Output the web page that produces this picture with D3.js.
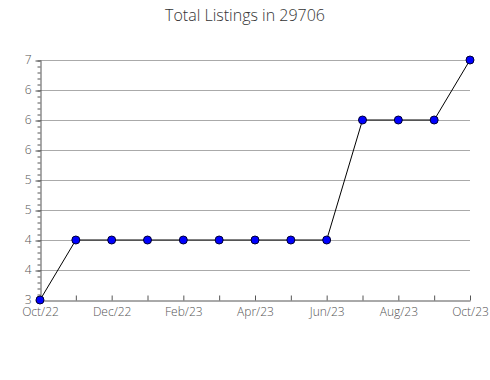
<!DOCTYPE html>
<html>
<head>
<meta charset="utf-8">
<script src="https://cdn.jsdelivr.net/npm/d3@7"></script>
<style>
  body { margin: 0; background: #fff; }
  text { font-family: "Open Sans", sans-serif; }
</style>
</head>
<body>
<div id="chart"></div>
<script>
/** chart data */
let months = ["Oct/22", "Nov/22", "Dec/22", "Jan/23", "Feb/23", "Mar/23", "Apr/23",
  "May/23", "Jun/23", "Jul/23", "Aug/23", "Sep/23", "Oct/23"];
let listings = [3, 4, 4, 4, 4, 4, 4, 4, 4, 6, 6, 6, 7];
let yTicks = [3, 3.5, 4, 4.5, 5, 5.5, 6, 6.5, 7];
let yTickLabels = ["3", "4", "4", "5", "5", "6", "6", "6", "7"];

/** size */
let width = 490;
let height = 380;
let margin = { top: 60, right: 20, bottom: 80, left: 40 };

let svg = d3.select('#chart')
  .append('svg')
  .attr('width', width)
  .attr('height', height);

let x = d3.scalePoint()
  .domain(months)
  .range([margin.left, width - margin.right]);

let y = d3.scaleLinear()
  .domain([3, 7])
  .range([height - margin.bottom, margin.top]);

/** title */
svg.append('text')
  .attr('x', width / 2)
  .attr('y', 21)
  .attr('text-anchor', 'middle')
  .style('font-size', '16px')
  .style('font-weight', 300)
  .style('fill', '#333')
  .text('Total Listings in 29706');

/** grid lines */
svg.append('g')
  .selectAll('line')
  .data(yTicks.slice(1))
  .enter()
  .append('line')
  .attr('x1', margin.left)
  .attr('x2', width - margin.right)
  .attr('y1', d => y(d) + 0.5)
  .attr('y2', d => y(d) + 0.5)
  .style('stroke', '#aaa')
  .style('stroke-width', 1);

/** minor y ticks */
let minor = d3.range(30, 71).map(d => d / 10);
svg.append('g')
  .attr('transform', `translate(${margin.left + 0.5},0)`)
  .call(d3.axisLeft(y).tickValues(minor).tickSize(3).tickFormat(''))
  .call(g => g.select('.domain').remove())
  .call(g => g.selectAll('line').attr('stroke', '#555').attr('transform', 'translate(0,0.5)'));

/** y axis */
let yAxis = svg.append('g')
  .attr('transform', `translate(${margin.left + 0.5},0)`)
  .call(d3.axisLeft(y).tickValues(yTicks).tickSize(5).tickSizeOuter(0)
    .tickFormat((d, i) => yTickLabels[i]));
yAxis.select('.domain').attr('stroke', '#555');
yAxis.selectAll('line').attr('stroke', '#555').attr('transform', 'translate(0,0.5)');
yAxis.selectAll('text')
  .attr('x', -9)
  .style('font-size', '12px')
  .style('font-weight', 300)
  .style('fill', '#555')
  .style('font-family', '"Open Sans", sans-serif');

/** x axis */
let xAxis = svg.append('g')
  .attr('transform', `translate(0,${height - margin.bottom + 0.5})`)
  .call(d3.axisBottom(x).tickSize(-5).tickSizeOuter(0)
    .tickFormat((d, i) => i % 2 === 0 ? d : ''));
xAxis.select('.domain').attr('stroke', '#555');
xAxis.selectAll('line').attr('stroke', '#555');
xAxis.selectAll('text')
  .attr('y', 7)
  .style('font-size', '12px')
  .style('font-weight', 300)
  .style('fill', '#555')
  .style('font-family', '"Open Sans", sans-serif');

/** line */
let line = d3.line()
  .x((d, i) => x(months[i]))
  .y(d => y(d));

svg.append('path')
  .datum(listings)
  .attr('d', line)
  .style('fill', 'none')
  .style('stroke', '#000')
  .style('stroke-width', 1);

/** markers */
svg.selectAll('.dot')
  .data(listings)
  .enter()
  .append('circle')
  .attr('class', 'dot')
  .attr('cx', (d, i) => x(months[i]))
  .attr('cy', d => y(d))
  .attr('r', 4)
  .style('fill', '#0000ff')
  .style('stroke', '#000033')
  .style('stroke-width', 1);
</script>
</body>
</html>
